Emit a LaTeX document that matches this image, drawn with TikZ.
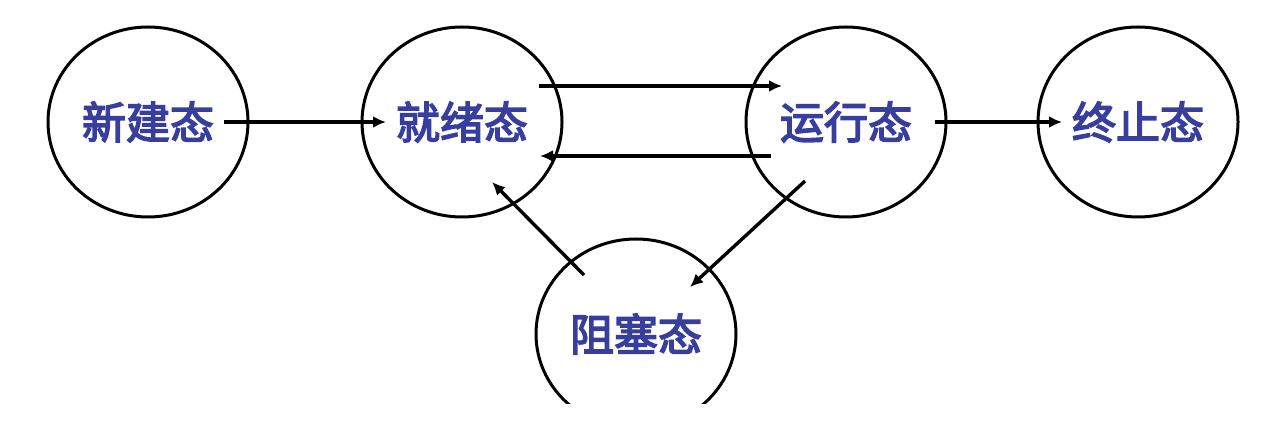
\documentclass[tikz,border=0pt]{standalone}
\usepackage{fontspec}
\newfontfamily\cjk{Noto Sans CJK SC}[FakeBold=3.5]
\usetikzlibrary{shapes.geometric,arrows.meta}
\definecolor{stateblue}{RGB}{56,62,158}
\tikzset{
  state/.style={ellipse, draw=black, line width=1.5pt, minimum width=100pt, minimum height=95pt,
    inner sep=0pt, font=\cjk\fontsize{22pt}{22pt}\selectfont, text=stateblue},
  conn/.style={line width=1.7pt, -{Latex[length=6.5pt,width=6pt]}}
}
\begin{document}
\begin{tikzpicture}[x=0.5pt,y=-0.5pt]
\useasboundingbox (0,0) rectangle (1278,426);
\clip (0,0) rectangle (1278,404);
\node[state] (new) at (148,122) {新建态};
\node[state] (ready) at (462,122) {就绪态};
\node[state] (run) at (846,122) {运行态};
\node[state] (term) at (1138,122) {终止态};
\node[state] (block) at (636,334) {阻塞态};
\coordinate (n1) at ([shift={(76,0)}]new.center);
\coordinate (r1) at ([shift={(-76,0)}]ready.center);
\coordinate (r2) at ([shift={(77,-36)}]ready.center);
\coordinate (u2) at ([shift={(-64,-36)}]run.center);
\coordinate (u3) at ([shift={(-75,34)}]run.center);
\coordinate (r3) at ([shift={(78,34)}]ready.center);
\coordinate (u4) at ([shift={(89,0)}]run.center);
\coordinate (t4) at ([shift={(-76,0)}]term.center);
\coordinate (u5) at ([shift={(-41,59)}]run.center);
\coordinate (b5) at ([shift={(54,-47)}]block.center);
\coordinate (b6) at ([shift={(-52,-59)}]block.center);
\coordinate (r6) at ([shift={(30,60)}]ready.center);
\draw[conn] (n1) -- (r1);
\draw[conn] (r2) -- (u2);
\draw[conn] (u3) -- (r3);
\draw[conn] (u4) -- (t4);
\draw[conn] (u5) -- (b5);
\draw[conn] (b6) -- (r6);
\end{tikzpicture}
\end{document}
